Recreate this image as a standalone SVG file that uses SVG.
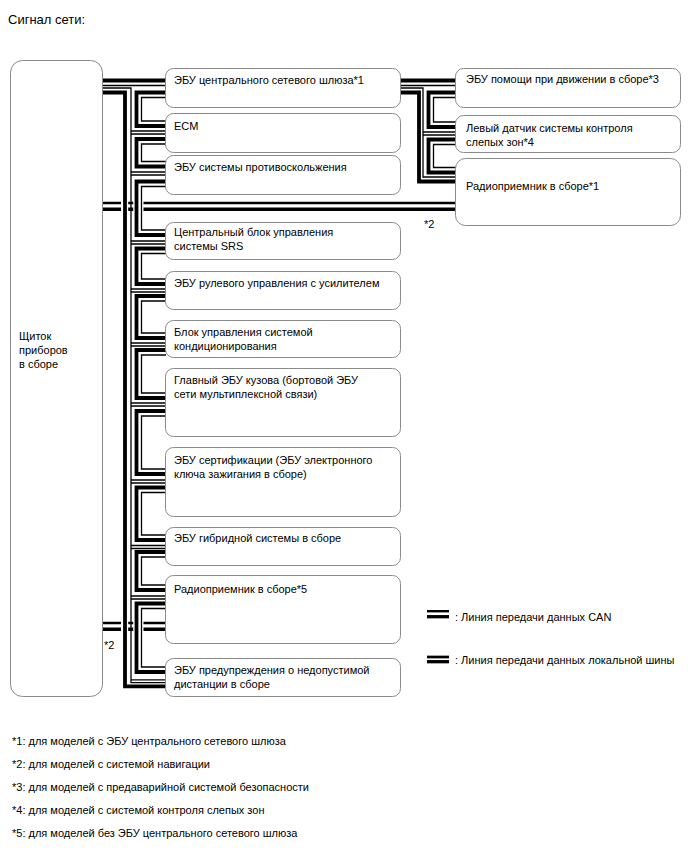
<svg xmlns="http://www.w3.org/2000/svg" width="688" height="852" viewBox="0 0 688 852">
<style>
.box{fill:#fff;stroke:#8a8a8a;stroke-width:1}
.t{font-family:"Liberation Sans",Arial,sans-serif;font-size:11px;fill:#000}
.fn{font-family:"Liberation Sans",Arial,sans-serif;font-size:11px;fill:#000}
.k{fill:none;stroke:#000;stroke-width:3.8}
.n{fill:none;stroke:#000;stroke-width:1.3}
.lb1{fill:none;stroke:#000;stroke-width:2.7}
.lb2{fill:none;stroke:#000;stroke-width:3.5}
</style>
<rect width="688" height="852" fill="#fff"/>
<text class="t" x="8" y="24" style="font-size:13px">Сигнал сети:</text>
<g id="connectors">
  <path class="k" d="M102.5,80.5H166"/>
  <path class="n" d="M102.5,85.5H166"/>
  <path class="n" d="M102.5,88H131V682.6H166"/>
  <path class="k" d="M102.5,92.5H125V686.3H166"/>
  <path class="n" d="M131,679.8H166"/>
  <path class="k" d="M166,92.5H136.5V126H166"/>
  <path class="n" d="M166,97.5H141.5V121H166"/>
  <path class="k" d="M166,139H136.5V166.5H166"/>
  <path class="n" d="M166,144H141.5V161.5H166"/>
  <path class="k" d="M166,181.5H136.5V235H166"/>
  <path class="n" d="M166,186.5H141.5V230H166"/>
  <path class="k" d="M166,248.5H136.5V284H166"/>
  <path class="n" d="M166,253.5H141.5V279H166"/>
  <path class="k" d="M166,296H136.5V338H166"/>
  <path class="n" d="M166,301H141.5V333H166"/>
  <path class="k" d="M166,350H136.5V398H166"/>
  <path class="n" d="M166,355H141.5V393H166"/>
  <path class="k" d="M166,411H136.5V474H166"/>
  <path class="n" d="M166,416H141.5V469H166"/>
  <path class="k" d="M166,487.5H136.5V540H166"/>
  <path class="n" d="M166,492.5H141.5V535H166"/>
  <path class="k" d="M166,552H136.5V590H166"/>
  <path class="n" d="M166,557H141.5V585H166"/>
  <path class="k" d="M166,603.5H136.5V672H166"/>
  <path class="n" d="M166,608.5H141.5V667H166"/>
  <path class="n" d="M131,131H166M131,134H166"/>
  <path class="n" d="M131,172H166M131,175H166"/>
  <path class="n" d="M131,241H166M131,244H166"/>
  <path class="n" d="M131,289H166M131,292H166"/>
  <path class="n" d="M131,343H166M131,346H166"/>
  <path class="n" d="M131,403H166M131,406H166"/>
  <path class="n" d="M131,480H166M131,483H166"/>
  <path class="n" d="M131,545.5H166M131,548.5H166"/>
  <path class="n" d="M131,596H166M131,599H166"/>
  <path class="k" d="M400,80.5H456"/>
  <path class="n" d="M400,85.5H456"/>
  <path class="n" d="M400,88H423V177H456"/>
  <path class="k" d="M400,92.5H419V181.5H456"/>
  <path class="k" d="M456,92.5H428.5V127H456"/>
  <path class="n" d="M456,97.5H433.5V122H456"/>
  <path class="n" d="M423,132H456M423,135H456"/>
  <path class="k" d="M456,139.5H428.5V172.5H456"/>
  <path class="n" d="M456,144.5H433.5V167.5H456"/>
  <path class="lb1" d="M102.5,203H121M128.2,203H133.2M143.5,203H456"/>
  <path class="lb2" d="M102.5,209.3H121M128.2,209.3H133.2M143.5,209.3H456"/>
  <path class="lb1" d="M102.5,623H121M128.2,623H133.2M143.5,623H166"/>
  <path class="lb2" d="M102.5,629.2H121M128.2,629.2H133.2M143.5,629.2H166"/>
</g>
<text class="fn" x="424" y="228">*2</text>
<text class="fn" x="104" y="649">*2</text>
<g id="cluster"><rect class="box" x="10.5" y="60.5" width="92" height="636" rx="12"/>
<text class="t" x="19" y="340">Щиток</text><text class="t" x="19" y="354">приборов</text><text class="t" x="19" y="368">в сборе</text></g>
<g id="gateway"><rect class="box" x="165.5" y="68.5" width="235" height="39" rx="8"/><text class="t" x="174" y="84">ЭБУ центрального сетевого шлюза*1</text></g>
<g id="ecm"><rect class="box" x="165.5" y="113.5" width="235" height="39" rx="8"/><text class="t" x="174" y="130">ECM</text></g>
<g id="skid"><rect class="box" x="165.5" y="155.5" width="235" height="39" rx="8"/><text class="t" x="174" y="171">ЭБУ системы противоскольжения</text></g>
<g id="srs"><rect class="box" x="165.5" y="222.5" width="235" height="37" rx="8"/><text class="t" x="174" y="236">Центральный блок управления</text><text class="t" x="174" y="250">системы SRS</text></g>
<g id="eps"><rect class="box" x="165.5" y="271.5" width="235" height="38" rx="8"/><text class="t" x="174" y="287">ЭБУ рулевого управления с усилителем</text></g>
<g id="ac"><rect class="box" x="165.5" y="320.5" width="235" height="37" rx="8"/><text class="t" x="174" y="336">Блок управления системой</text><text class="t" x="174" y="350">кондиционирования</text></g>
<g id="body"><rect class="box" x="165.5" y="368.5" width="235" height="68" rx="8"/><text class="t" x="174" y="384">Главный ЭБУ кузова (бортовой ЭБУ</text><text class="t" x="174" y="398">сети мультиплексной связи)</text></g>
<g id="cert"><rect class="box" x="165.5" y="447.5" width="235" height="69" rx="8"/><text class="t" x="174" y="464">ЭБУ сертификации (ЭБУ электронного</text><text class="t" x="174" y="478">ключа зажигания в сборе)</text></g>
<g id="hybrid"><rect class="box" x="165.5" y="527.5" width="235" height="38" rx="8"/><text class="t" x="174" y="542">ЭБУ гибридной системы в сборе</text></g>
<g id="radio5"><rect class="box" x="165.5" y="575.5" width="235" height="68" rx="8"/><text class="t" x="174" y="593">Радиоприемник в сборе*5</text></g>
<g id="distance"><rect class="box" x="165.5" y="658.5" width="235" height="38" rx="8"/><text class="t" x="174" y="674">ЭБУ предупреждения о недопустимой</text><text class="t" x="174" y="688">дистанции в сборе</text></g>
<g id="drivingassist"><rect class="box" x="455.5" y="68.5" width="225" height="39" rx="8"/><text class="t" x="466" y="83">ЭБУ помощи при движении в сборе*3</text></g>
<g id="blindspot"><rect class="box" x="455.5" y="115.5" width="225" height="37" rx="8"/><text class="t" x="466" y="132">Левый датчик системы контроля</text><text class="t" x="466" y="146">слепых зон*4</text></g>
<g id="radio1"><rect class="box" x="455.5" y="158.5" width="225" height="67" rx="10"/><text class="t" x="466" y="190">Радиоприемник в сборе*1</text></g>
<g id="legend">
  <path d="M427,611.2H449" stroke="#000" stroke-width="2.4"/>
  <path d="M427,616.7H449" stroke="#000" stroke-width="3.3"/>
  <text class="t" x="455" y="621">: Линия передачи данных CAN</text>
  <path d="M427,657H449" stroke="#000" stroke-width="2.7"/>
  <path d="M427,661.7H449" stroke="#000" stroke-width="3.3"/>
  <text class="t" x="455" y="664">: Линия передачи данных локальной шины</text>
</g>
<g id="footnotes">
  <text class="fn" x="12" y="745">*1: для моделей с ЭБУ центрального сетевого шлюза</text>
  <text class="fn" x="12" y="768">*2: для моделей с системой навигации</text>
  <text class="fn" x="12" y="791">*3: для моделей с предаварийной системой безопасности</text>
  <text class="fn" x="12" y="814">*4: для моделей с системой контроля слепых зон</text>
  <text class="fn" x="12" y="837">*5: для моделей без ЭБУ центрального сетевого шлюза</text>
</g>
</svg>
